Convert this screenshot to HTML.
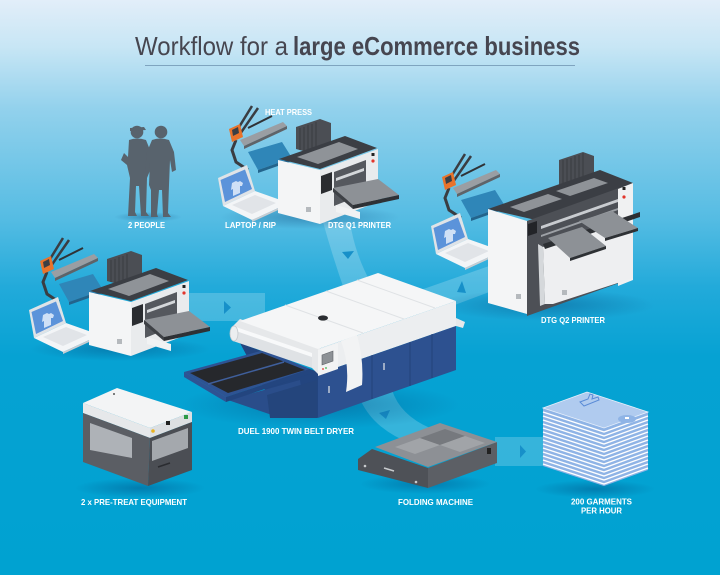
<!DOCTYPE html>
<html><head><meta charset="utf-8"><style>
html,body{margin:0;padding:0;width:720px;height:575px;overflow:hidden;background:#00a2d1}
svg{display:block}
text{font-family:"Liberation Sans",sans-serif}
.lb{fill:#fff;font-weight:bold;font-size:8.4px}
</style></head><body>
<svg width="720" height="575" viewBox="0 0 720 575" xmlns="http://www.w3.org/2000/svg">
<defs>
<linearGradient id="bg" x1="0" y1="0" x2="0" y2="1">
<stop offset="0" stop-color="#e2eef9"/>
<stop offset="0.08" stop-color="#c8e6f5"/>
<stop offset="0.19" stop-color="#92d1ec"/>
<stop offset="0.38" stop-color="#55bce3"/>
<stop offset="0.5" stop-color="#22aada"/>
<stop offset="0.62" stop-color="#06a2d3"/>
<stop offset="1" stop-color="#00a2d1"/>
</linearGradient>
<radialGradient id="sh">
<stop offset="0" stop-color="#00386e" stop-opacity="0.35"/>
<stop offset="1" stop-color="#00386e" stop-opacity="0"/>
</radialGradient>
</defs>
<rect width="720" height="575" fill="url(#bg)"/>

<!-- Title -->
<text x="135" y="55" font-size="26" fill="#464650" textLength="153" lengthAdjust="spacingAndGlyphs">Workflow for a</text>
<text x="293" y="55" font-size="26" font-weight="bold" fill="#464650" textLength="287" lengthAdjust="spacingAndGlyphs">large eCommerce business</text>
<line x1="145" y1="65.5" x2="575" y2="65.5" stroke="#7fa4bf" stroke-width="1"/>

<!-- connector bands -->
<g fill="#ffffff" fill-opacity="0.2">
<rect x="185" y="293" width="80" height="28"/>
<path d="M323,222 L350,222 Q355,255 372,285 L345,292 Q333,258 323,222 Z"/>
<polygon points="412,293 492,265 492,291 420,318"/>
<path d="M358,394 L392,390 Q400,415 430,428 L412,444 Q370,428 358,394 Z"/>
<rect x="495" y="437" width="50" height="29"/>
</g>
<g fill="#1790c9">
<polygon points="224,301 231,307.5 224,314"/>
<polygon points="342,252 354,251 348,259"/>
<polygon points="462,281 457,292 466,293"/>
<polygon points="379,413 390,410 386,419"/>
<polygon points="520,445 526,451.5 520,458"/>
</g>

<!-- shadows -->
<ellipse cx="148" cy="217" rx="34" ry="5" fill="url(#sh)"/>
<ellipse cx="310" cy="217" rx="90" ry="12" fill="url(#sh)"/>
<ellipse cx="120" cy="349" rx="90" ry="12" fill="url(#sh)"/>
<ellipse cx="545" cy="305" rx="110" ry="16" fill="url(#sh)"/>
<ellipse cx="320" cy="405" rx="140" ry="24" fill="url(#sh)"/>
<ellipse cx="140" cy="488" rx="65" ry="10" fill="url(#sh)"/>
<ellipse cx="425" cy="484" rx="65" ry="10" fill="url(#sh)"/>
<ellipse cx="595" cy="489" rx="60" ry="9" fill="url(#sh)"/>

<!-- people -->
<g fill="#58636d">
<circle cx="137" cy="132" r="6.3"/>
<path d="M130,128 L144,127 L146,130 L130,131 Z"/>
<path d="M129,140 Q137,137 146,140 L150,150 L151,168 L147,178 L146,212 L149,216 L141,216 L139,186 L136,186 L135,212 L137,216 L128,216 L130,178 L127,165 L121,160 L124,153 L128,157 Z"/>
<circle cx="161" cy="132" r="6.3"/>
<path d="M152,140 Q160,137 169,140 L174,152 L176,170 L172,172 L170,160 L169,185 L168,213 L171,217 L163,217 L162,190 L159,190 L157,214 L158,217 L151,217 L151,190 L149,185 L150,160 L148,172 L145,170 L147,152 Z"/>
</g>

<!-- ===== Q1 workstation ===== -->
<g>
<path d="M236,140 L232,150 L236,162 L248,170" stroke="#3a3d42" stroke-width="3" fill="none"/>
<polygon points="248,152 282,142 292,158 258,170" fill="#2f86b8"/>
<polygon points="258,170 292,158 292,161 258,173" fill="#23648c"/>
<path d="M236,132 L252,106 M240,134 L258,108" stroke="#3a3d42" stroke-width="2.5"/>
<polygon points="240,140 283,122 287,126 244,146" fill="#9a9ea3"/>
<polygon points="244,146 287,126 287,129 244,149" fill="#5f6368"/>
<path d="M248,128 L272,116" stroke="#2f3236" stroke-width="2"/>
<polygon points="229,129 240,124 243,137 232,142" fill="#e8732b"/>
<polygon points="232,130 238,127 239,133 233,136" fill="#3b3f45"/>
<polygon points="218,178 247,165 255,191 223,206" fill="#dfe3e7"/>
<polygon points="220.5,180 245,169.5 252,189 225,202" fill="#5b93da"/>
<path d="M232,183 l4,-2 l2,1 l2,-1 l3,2 l-1,3 l-2,0 l0,7 l-7,3 l0,-7 l-2,1 z" fill="#cfe0f6"/>
<polygon points="223,206 255,191 289,203 252,220" fill="#f3f5f7"/>
<polygon points="252,220 289,203 289,205 252,222" fill="#c9cdd2"/>
<polygon points="232,205 255,195 276,203 252,214" fill="#e1e4e8"/>
<polygon points="296,127 320,119 331,123 331,145 307,152 296,149" fill="#4b4e54"/>
<path d="M300,128 V150 M304,127 V151 M308,125 V151 M312,124 V150 M316,122 V149" stroke="#3a3c41" stroke-width="1"/>
<polygon points="279,159 345,136 377,148 320,169" fill="#3b3e44"/>
<polygon points="297,157 339,142 358,149 318,164" fill="#8f9398"/>
<polygon points="278,160 320,170 320,224 278,213" fill="#f4f5f6"/>
<rect x="306" y="207" width="5" height="5" fill="#b5b9bd"/>
<polygon points="320,170 378,149 378,202 320,224" fill="#e9ebed"/>
<polygon points="334,172 366,160 366,193 334,206" fill="#55585e"/>
<polygon points="336,178 364,168 364,171 336,181" fill="#d4d7da"/>
<polygon points="321,176 332,172 332,190 321,194" fill="#2a2c30"/>
<polygon points="333,188 378,179 399,195 353,205" fill="#8d9196"/>
<polygon points="353,205 399,195 399,199 353,209" fill="#2e3135"/>
<polygon points="333,188 353,205 353,209 333,192" fill="#3e4146"/>
<polygon points="336,205 360,212 360,219 336,212" fill="#f1f2f3"/>
<circle cx="373" cy="161" r="1.6" fill="#e2362c"/>
<rect x="371.5" y="153" width="3" height="3" fill="#222"/>
</g>

<!-- ===== Left workstation (copy) ===== -->
<g transform="translate(-189,132)">
<path d="M236,140 L232,150 L236,162 L248,170" stroke="#3a3d42" stroke-width="3" fill="none"/>
<polygon points="248,152 282,142 292,158 258,170" fill="#2f86b8"/>
<polygon points="258,170 292,158 292,161 258,173" fill="#23648c"/>
<path d="M236,132 L252,106 M240,134 L258,108" stroke="#3a3d42" stroke-width="2.5"/>
<polygon points="240,140 283,122 287,126 244,146" fill="#9a9ea3"/>
<polygon points="244,146 287,126 287,129 244,149" fill="#5f6368"/>
<path d="M248,128 L272,116" stroke="#2f3236" stroke-width="2"/>
<polygon points="229,129 240,124 243,137 232,142" fill="#e8732b"/>
<polygon points="232,130 238,127 239,133 233,136" fill="#3b3f45"/>
<polygon points="218,178 247,165 255,191 223,206" fill="#dfe3e7"/>
<polygon points="220.5,180 245,169.5 252,189 225,202" fill="#5b93da"/>
<path d="M232,183 l4,-2 l2,1 l2,-1 l3,2 l-1,3 l-2,0 l0,7 l-7,3 l0,-7 l-2,1 z" fill="#cfe0f6"/>
<polygon points="223,206 255,191 289,203 252,220" fill="#f3f5f7"/>
<polygon points="252,220 289,203 289,205 252,222" fill="#c9cdd2"/>
<polygon points="232,205 255,195 276,203 252,214" fill="#e1e4e8"/>
<polygon points="296,127 320,119 331,123 331,145 307,152 296,149" fill="#4b4e54"/>
<path d="M300,128 V150 M304,127 V151 M308,125 V151 M312,124 V150 M316,122 V149" stroke="#3a3c41" stroke-width="1"/>
<polygon points="279,159 345,136 377,148 320,169" fill="#3b3e44"/>
<polygon points="297,157 339,142 358,149 318,164" fill="#8f9398"/>
<polygon points="278,160 320,170 320,224 278,213" fill="#f4f5f6"/>
<rect x="306" y="207" width="5" height="5" fill="#b5b9bd"/>
<polygon points="320,170 378,149 378,202 320,224" fill="#e9ebed"/>
<polygon points="334,172 366,160 366,193 334,206" fill="#55585e"/>
<polygon points="336,178 364,168 364,171 336,181" fill="#d4d7da"/>
<polygon points="321,176 332,172 332,190 321,194" fill="#2a2c30"/>
<polygon points="333,188 378,179 399,195 353,205" fill="#8d9196"/>
<polygon points="353,205 399,195 399,199 353,209" fill="#2e3135"/>
<polygon points="333,188 353,205 353,209 333,192" fill="#3e4146"/>
<polygon points="336,205 360,212 360,219 336,212" fill="#f1f2f3"/>
<circle cx="373" cy="161" r="1.6" fill="#e2362c"/>
<rect x="371.5" y="153" width="3" height="3" fill="#222"/>
</g>

<!-- ===== Q2 workstation ===== -->
<g transform="translate(213,48)">
<path d="M236,140 L232,150 L236,162 L248,170" stroke="#3a3d42" stroke-width="3" fill="none"/>
<polygon points="248,152 282,142 292,158 258,170" fill="#2f86b8"/>
<polygon points="258,170 292,158 292,161 258,173" fill="#23648c"/>
<path d="M236,132 L252,106 M240,134 L258,108" stroke="#3a3d42" stroke-width="2.5"/>
<polygon points="240,140 283,122 287,126 244,146" fill="#9a9ea3"/>
<polygon points="244,146 287,126 287,129 244,149" fill="#5f6368"/>
<path d="M248,128 L272,116" stroke="#2f3236" stroke-width="2"/>
<polygon points="229,129 240,124 243,137 232,142" fill="#e8732b"/>
<polygon points="232,130 238,127 239,133 233,136" fill="#3b3f45"/>
<polygon points="218,178 247,165 255,191 223,206" fill="#dfe3e7"/>
<polygon points="220.5,180 245,169.5 252,189 225,202" fill="#5b93da"/>
<path d="M232,183 l4,-2 l2,1 l2,-1 l3,2 l-1,3 l-2,0 l0,7 l-7,3 l0,-7 l-2,1 z" fill="#cfe0f6"/>
<polygon points="223,206 255,191 289,203 252,220" fill="#f3f5f7"/>
<polygon points="252,220 289,203 289,205 252,222" fill="#c9cdd2"/>
<polygon points="232,205 255,195 276,203 252,214" fill="#e1e4e8"/>
</g>
<!-- Q2 printer -->
<polygon points="559,160 583,152 594,156 594,180 570,188 559,185" fill="#4b4e54"/>
<path d="M563,160 V186 M567,159 V187 M571,158 V187 M575,156 V186 M579,155 V185 M583,153 V184" stroke="#3a3c41" stroke-width="1"/>
<polygon points="488,209 600,170 633,183 540,221" fill="#3b3e44"/>
<polygon points="510,207 548,194 562,199 524,212" fill="#8f9398"/>
<polygon points="556,191 594,178 608,183 570,196" fill="#8f9398"/>
<polygon points="488,209 527,221 527,314 488,303" fill="#f4f5f6"/>
<polygon points="527,221 633,183 633,278 527,316" fill="#4d5056"/>
<polygon points="541,226 618,199 618,202 541,229" fill="#c9ccd0"/>
<polygon points="541,235 618,208 618,210 541,237" fill="#9da1a6"/>
<polygon points="618,189 633,183 633,280 618,286" fill="#f0f1f2"/>
<polygon points="543,247 633,215 633,278 553,304 545,304" fill="#eeeff1"/>
<polygon points="538,244 543,247 545,304 540,306" fill="#d5d8db"/>
<polygon points="528,224 537,221 537,233 528,236" fill="#222428"/>
<polygon points="543,244 640,212 640,217 545,249" fill="#2c2f33"/>
<polygon points="548,238 582,227 606,246 570,258" fill="#8d9196"/>
<polygon points="570,258 606,246 606,249 570,261" fill="#2e3135"/>
<polygon points="579,221 612,211 638,228 605,238" fill="#8d9196"/>
<polygon points="605,238 638,228 638,231 605,241" fill="#2e3135"/>
<rect x="516" y="294" width="5" height="5" fill="#b5b9bd"/>
<rect x="562" y="290" width="5" height="5" fill="#b5b9bd"/>
<circle cx="624" cy="197" r="1.6" fill="#e2362c"/>
<rect x="622.5" y="187" width="3" height="3" fill="#222"/>

<!-- ===== Dryer ===== -->
<polygon points="240,343 318,372 318,418 300,412 265,390" fill="#23457f"/>
<polygon points="228,400 300,380 305,412 275,416" fill="#2a4d8a"/>
<polygon points="267,395 317,380 317,418 270,418" fill="#24457c"/>
<polygon points="184,372 264,350 310,369 226,397" fill="#2e5393"/>
<polygon points="190,373 262,353 305,370 228,393" fill="#26282c"/>
<line x1="284" y1="362" x2="208" y2="384" stroke="#3f5f9c" stroke-width="1.5"/>
<polygon points="184,372 226,397 226,402 184,377" fill="#2e5393"/>
<polygon points="226,397 310,369 310,374 226,402" fill="#23457f"/>
<polygon points="231,328 240,319 320,347 318,360 312,356" fill="#e6e8ea"/>
<polygon points="240,321 378,273 456,301 318,349" fill="#f5f6f7"/>
<path d="M285,305 L363,333 M326,291 L404,319 M357,280 L435,308" stroke="#dfe2e5" stroke-width="1"/>
<ellipse cx="323" cy="318" rx="5" ry="2.6" fill="#2b2d31"/>
<polygon points="233,326 312,353 312,368 233,341" fill="#dfe2e5"/>
<polygon points="233,326 312,353 312,357 233,330" fill="#f8f9fa"/>
<ellipse cx="234" cy="333.5" rx="4" ry="7.5" fill="#eceef0" stroke="#c4c8cc" stroke-width="0.8"/>
<polygon points="312,351 318,349 318,374 312,368" fill="#e6e8ea"/>
<polygon points="318,349 456,301 456,326 318,374" fill="#eceef0"/>
<polygon points="318,374 456,326 456,370 318,418" fill="#2d5190"/>
<path d="M372,355 V399 M410,342 V386 M432,334 V378" stroke="#22437a" stroke-width="1"/>
<path d="M384,363 V370 M329,386 V393" stroke="#e6e8ea" stroke-width="1.2"/>
<polygon points="318,350 338,343 338,369 318,376" fill="#f2f3f4"/>
<polygon points="322,355 333,351 333,361 322,365" fill="#8d9196" stroke="#5f6368" stroke-width="0.6"/>
<circle cx="323" cy="369" r="0.9" fill="#e2362c"/><circle cx="326" cy="368" r="0.9" fill="#38b24a"/>
<path d="M341,341 L357,335 Q364,360 362,385 L346,392 Q350,365 341,341 Z" fill="#f2f3f4"/>
<polygon points="456,318 465,322 463,328 456,326" fill="#e6e8ea"/>

<!-- ===== Pre-treat ===== -->
<polygon points="83,403 117,388 192,412 150,428" fill="#f3f4f5"/>
<polygon points="83,403 150,428 150,438 83,413" fill="#e6e8ea"/>
<polygon points="150,428 192,412 192,422 150,438" fill="#dcdfe2"/>
<polygon points="83,413 150,438 148,486 83,462" fill="#5b5e64"/>
<polygon points="150,438 192,422 192,470 148,486" fill="#4b4e54"/>
<polygon points="90,423 132,438 132,458 90,450" fill="#aeb2b7"/>
<polygon points="152,441 188,428 188,448 152,461" fill="#a4a8ad"/>
<path d="M158,467 L170,463" stroke="#2a2c30" stroke-width="1.5"/>
<circle cx="153" cy="431" r="1.8" fill="#e9b21f"/>
<rect x="166" y="421" width="4" height="4" fill="#222"/>
<rect x="184" y="415" width="4" height="4" fill="#2e9a48"/>
<circle cx="114" cy="394" r="1" fill="#555"/>

<!-- ===== Folding machine ===== -->
<polygon points="358,459 372,449 428,468 428,488 358,470" fill="#4e5157"/>
<polygon points="428,468 497,442 497,463 428,488" fill="#5c5f65"/>
<polygon points="375,447 440,423 497,442 428,467" fill="#8d9095"/>
<polygon points="395,447 420,438 440,445 415,454" fill="#a1a4a8"/>
<polygon points="420,438 445,429 465,436 440,445" fill="#76797e"/>
<polygon points="440,445 465,436 485,443 460,452" fill="#a1a4a8"/>
<rect x="487" y="448" width="4" height="6" fill="#222"/>
<path d="M384,468 L394,471" stroke="#c8cbce" stroke-width="1.5"/>
<circle cx="365" cy="466" r="1.3" fill="#c8cbce"/>
<circle cx="416" cy="482" r="1.3" fill="#c8cbce"/>

<!-- ===== Garments ===== -->
<polygon points="543,408 604,428 648,412 648,470 604,486 543,466" fill="#8fb4e6"/>
<g fill="none" stroke="#ffffff" stroke-width="1.3">
<polyline points="543,412 604,432 648,416"/>
<polyline points="543,416 604,436 648,420"/>
<polyline points="543,420 604,440 648,424"/>
<polyline points="543,424 604,444 648,428"/>
<polyline points="543,428 604,448 648,432"/>
<polyline points="543,432 604,452 648,436"/>
<polyline points="543,436 604,456 648,440"/>
<polyline points="543,440 604,460 648,444"/>
<polyline points="543,444 604,464 648,448"/>
<polyline points="543,448 604,468 648,452"/>
<polyline points="543,452 604,472 648,456"/>
<polyline points="543,456 604,476 648,460"/>
<polyline points="543,460 604,480 648,464"/>
<polyline points="543,464 604,484 648,468"/>
</g>
<polygon points="543,408 587,392 648,412 604,428" fill="#b0cbef" stroke="#e8f0fb" stroke-width="0.8"/>
<path d="M580,402 l8,-3 l2,-5 l3,1 l-1,4 l6,-2 l1,3 l-15,6 z" fill="none" stroke="#5a8bd6" stroke-width="1"/>
<ellipse cx="627" cy="419" rx="9" ry="4" fill="#8fb4e6"/>
<rect x="625" y="417" width="4" height="2" fill="#fff"/>

<!-- labels -->
<text class="lb" x="265" y="115" textLength="47" lengthAdjust="spacingAndGlyphs">HEAT PRESS</text>
<text class="lb" x="128" y="228" textLength="37" lengthAdjust="spacingAndGlyphs">2 PEOPLE</text>
<text class="lb" x="225" y="228" textLength="51" lengthAdjust="spacingAndGlyphs">LAPTOP / RIP</text>
<text class="lb" x="328" y="228" textLength="63" lengthAdjust="spacingAndGlyphs">DTG Q1 PRINTER</text>
<text class="lb" x="541" y="323" textLength="64" lengthAdjust="spacingAndGlyphs">DTG Q2 PRINTER</text>
<text class="lb" x="238" y="434" textLength="116" lengthAdjust="spacingAndGlyphs">DUEL 1900 TWIN BELT DRYER</text>
<text class="lb" x="81" y="505" textLength="106" lengthAdjust="spacingAndGlyphs">2 x PRE-TREAT EQUIPMENT</text>
<text class="lb" x="398" y="505" textLength="75" lengthAdjust="spacingAndGlyphs">FOLDING MACHINE</text>
<text class="lb" x="571" y="504.5" textLength="61" lengthAdjust="spacingAndGlyphs">200 GARMENTS</text>
<text class="lb" x="581" y="513.5" textLength="41" lengthAdjust="spacingAndGlyphs">PER HOUR</text>
</svg>
</body></html>
